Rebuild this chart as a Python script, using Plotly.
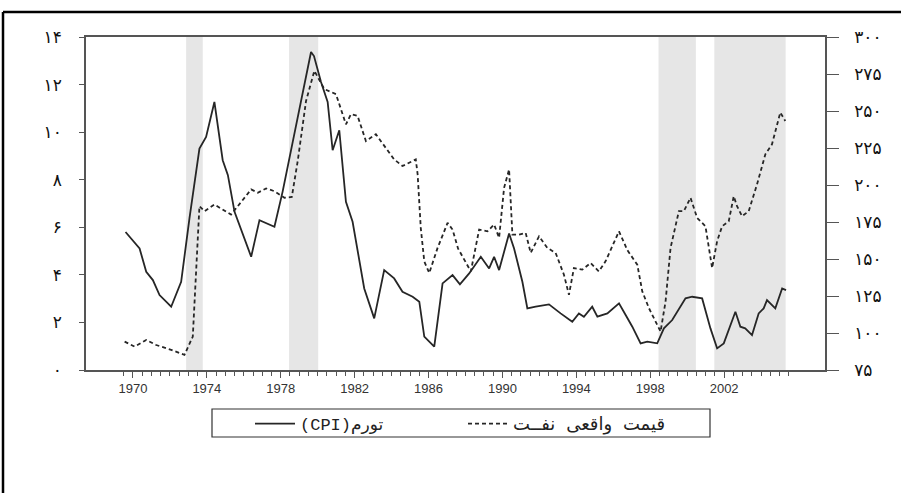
import numpy as np
import plotly.graph_objects as go

# ---- data ----
cpi_year = [1969.6, 1970.36, 1970.72, 1971.08, 1971.44, 1972.07, 1972.61, 1973.06, 1973.6, 1973.96,
            1974.41, 1974.86, 1975.14, 1975.5, 1976.4, 1976.85, 1977.66, 1978.1, 1978.65, 1979.64,
            1979.8, 1980.18, 1980.54, 1980.81, 1981.17, 1981.53, 1981.89, 1982.52, 1983.06, 1983.6,
            1984.14, 1984.59, 1985.14, 1985.5, 1985.77, 1986.31, 1986.76, 1987.3, 1987.7, 1988.2,
            1988.83, 1989.28, 1989.55, 1989.82, 1990.36, 1990.63, 1991.08, 1991.35, 1991.8, 1992.52,
            1993.15, 1993.78, 1994.14, 1994.41, 1994.86, 1995.14, 1995.68, 1996.31, 1996.67, 1997.03,
            1997.48, 1997.84, 1998.38, 1998.74, 1999.19, 1999.91, 2000.27, 2000.81, 2001.26, 2001.62,
            2001.98, 2002.61, 2002.88, 2003.14, 2003.51, 2003.87, 2004.14, 2004.32, 2004.77, 2005.14,
            2005.35]
cpi_value = [5.8, 5.11, 4.13, 3.78, 3.15, 2.66, 3.71, 6.37, 9.31, 9.8,
             11.27, 8.82, 8.19, 6.65, 4.76, 6.3, 6.02, 7.49, 9.59, 13.37,
             13.2, 12.11, 11.27, 9.24, 10.08, 7.07, 6.23, 3.43, 2.17, 4.2,
             3.85, 3.29, 3.08, 2.87, 1.4, 0.98, 3.64, 3.99, 3.6, 4.06,
             4.76, 4.27, 4.76, 4.2, 5.74, 5.11, 3.71, 2.59, 2.66, 2.76,
             2.38, 2.03, 2.38, 2.24, 2.66, 2.24, 2.38, 2.8, 2.31, 1.82,
             1.12, 1.19, 1.12, 1.75, 2.1, 3.01, 3.08, 3.01, 1.75, 0.91,
             1.12, 2.45, 1.82, 1.75, 1.47, 2.38, 2.59, 2.94, 2.59, 3.43,
             3.36]

oil_year = [1969.55, 1970.09, 1970.72, 1971.26, 1972.07, 1972.79, 1973.24, 1973.48, 1973.6, 1973.88,
            1974.41, 1975.31, 1976.4, 1976.76, 1977.21, 1977.66, 1978.2, 1978.6, 1978.92, 1979.37,
            1979.82, 1980.36, 1980.99, 1981.53, 1981.8, 1982.16, 1982.61, 1983.15, 1983.6, 1984.14,
            1984.59, 1985.31, 1985.41, 1985.58, 1985.77, 1986.04, 1986.49, 1987.03, 1987.3, 1987.6,
            1988.29, 1988.74, 1989.19, 1989.55, 1989.82, 1990.09, 1990.36, 1990.54, 1990.9, 1991.26,
            1991.53, 1991.98, 1992.43, 1992.88, 1993.33, 1993.6, 1993.87, 1994.32, 1994.77, 1995.22,
            1995.58, 1996.31, 1996.76, 1997.3, 1997.57, 1997.93, 1998.2, 1998.56, 1998.83, 1999.1,
            1999.55, 1999.82, 2000.18, 2000.54, 2000.99, 2001.35, 2001.62, 2001.89, 2002.25, 2002.52,
            2002.7, 2002.97, 2003.33, 2003.78, 2004.23, 2004.59, 2005.04, 2005.31]
oil_value = [94.2, 90.8, 95.3, 91.9, 88.6, 85.2, 97.6, 155.2, 185.7, 182.3,
             186.8, 180.0, 197.0, 194.8, 197.7, 195.8, 191.4, 191.9, 216.2, 256.8,
             277.2, 264.8, 261.4, 241.0, 247.8, 246.7, 229.7, 234.3, 226.3, 217.3,
             212.8, 217.3, 207.2, 171.0, 148.4, 140.5, 157.5, 174.4, 169.9, 157.0,
             141.6, 169.9, 168.7, 173.3, 164.3, 198.1, 210.5, 166.5, 166.5, 167.6,
             154.1, 165.3, 157.5, 154.1, 139.4, 125.8, 143.9, 142.8, 147.3, 141.6,
             148.4, 168.7, 156.0, 146.2, 128.1, 116.8, 110.0, 101.0, 121.3, 157.5,
             182.3, 182.3, 191.4, 177.8, 172.1, 143.9, 162.0, 172.1, 175.5, 192.4,
             185.7, 178.9, 182.3, 200.4, 220.7, 227.5, 249.0, 243.3]

shade_start = [1972.88, 1978.45, 1998.45, 2001.47]
shade_end = [1973.78, 1980.03, 2000.47, 2005.33]

left_ticks = [0, 2, 4, 6, 8, 10, 12, 14]
left_ticktext = ["۰", "۲", "۴", "۶", "۸", "۱۰", "۱۲", "۱۴"]
right_ticks = [75, 100, 125, 150, 175, 200, 225, 250, 275, 300]
right_ticktext = ["۷۵", "۱۰۰", "۱۲۵", "۱۵۰", "۱۷۵", "۲۰۰", "۲۲۵", "۲۵۰", "۲۷۵", "۳۰۰"]
year_ticks = [1970, 1974, 1978, 1982, 1986, 1990, 1994, 1998, 2002]
year_ticktext = ["1970", "1974", "1978", "1982", "1986", "1990", "1994", "1998", "2002"]

cpi_name = "(CPI)تورم"
oil_name = "قیمت واقعی نفــت"

# ---- figure ----
fig = go.Figure()
fig.add_trace(go.Scatter(x=cpi_year, y=cpi_value, mode="lines", name=cpi_name,
                         line=dict(color="#262626", width=1.8), yaxis="y"))
fig.add_trace(go.Scatter(x=oil_year, y=oil_value, mode="lines",
                         name='<span style="font-size:18px">' + oil_name + '</span>',
                         line=dict(color="#262626", width=1.8, dash="4px,3px"), yaxis="y2"))

for s, e in zip(shade_start, shade_end):
    fig.add_shape(type="rect", xref="x", yref="paper", x0=s, x1=e, y0=0, y1=1,
                  fillcolor="#e6e6e6", line=dict(width=0), layer="below")

# plot area: l=86, r=825 (739 px), t=37, b=370 (333 px)
def px_x(p):
    return (p - 86) / 739.0

def px_y(p):
    return (370 - p) / 333.0

# outer frame lines (left and top) of the picture
fig.add_shape(type="line", xref="paper", yref="paper", x0=px_x(3), x1=px_x(3), y0=px_y(12), y1=px_y(495),
              line=dict(color="black", width=2.5))
fig.add_shape(type="line", xref="paper", yref="paper", x0=px_x(3), x1=px_x(903), y0=px_y(12), y1=px_y(12),
              line=dict(color="black", width=2.5))
# legend box
fig.add_shape(type="rect", xref="paper", yref="paper", x0=px_x(212), x1=px_x(710), y0=px_y(409), y1=px_y(437),
              line=dict(color="#333333", width=1.2), fillcolor="rgba(0,0,0,0)")

axis_color = "#555555"
fig.update_layout(
    width=901, height=493,
    margin=dict(l=86, r=76, t=37, b=123, autoexpand=False),
    paper_bgcolor="white", plot_bgcolor="white",
    showlegend=True,
    legend=dict(orientation="h", x=px_x(250), y=px_y(406), xanchor="left", yanchor="top",
                borderwidth=0, bgcolor="rgba(0,0,0,0)",
                font=dict(family="Liberation Mono, DejaVu Sans", size=17, color="#222222"),
                entrywidth=158, entrywidthmode="pixels", itemwidth=40,
                traceorder="normal"),
    xaxis=dict(range=[1967.46, 2007.46], showgrid=False, zeroline=False, automargin=False,
               showline=True, linecolor=axis_color, linewidth=1.5, mirror=True,
               tickmode="array", tickvals=year_ticks, ticktext=year_ticktext,
               ticks="outside", ticklen=6, tickcolor=axis_color,
               tickfont=dict(family="Liberation Sans, Arial", size=13, color="#333333"),
               minor=dict(tickvals=list(np.arange(1969.5, 2005.6, 0.5)), ticks="outside",
                          ticklen=4, tickcolor=axis_color)),
    yaxis=dict(range=[0, 14], showgrid=False, zeroline=False, automargin=False,
               showline=True, linecolor=axis_color, linewidth=1.5,
               tickmode="array", tickvals=left_ticks, ticktext=left_ticktext,
               ticks="outside", ticklen=5, tickcolor=axis_color,
               ticklabelstandoff=14,
               tickfont=dict(family="DejaVu Sans", size=17, color="#111111")),
    yaxis2=dict(range=[75, 300], overlaying="y", side="right", showgrid=False, zeroline=False,
                automargin=False,
                showline=True, linecolor=axis_color, linewidth=1.5,
                tickmode="array", tickvals=right_ticks, ticktext=right_ticktext,
                ticks="outside", ticklen=12, tickcolor=axis_color,
                ticklabelstandoff=12,
                tickfont=dict(family="DejaVu Sans", size=17, color="#111111")),
)

fig.write_html("out.html", post_script="document.body.style.margin='0';",
               config={"displayModeBar": False})
